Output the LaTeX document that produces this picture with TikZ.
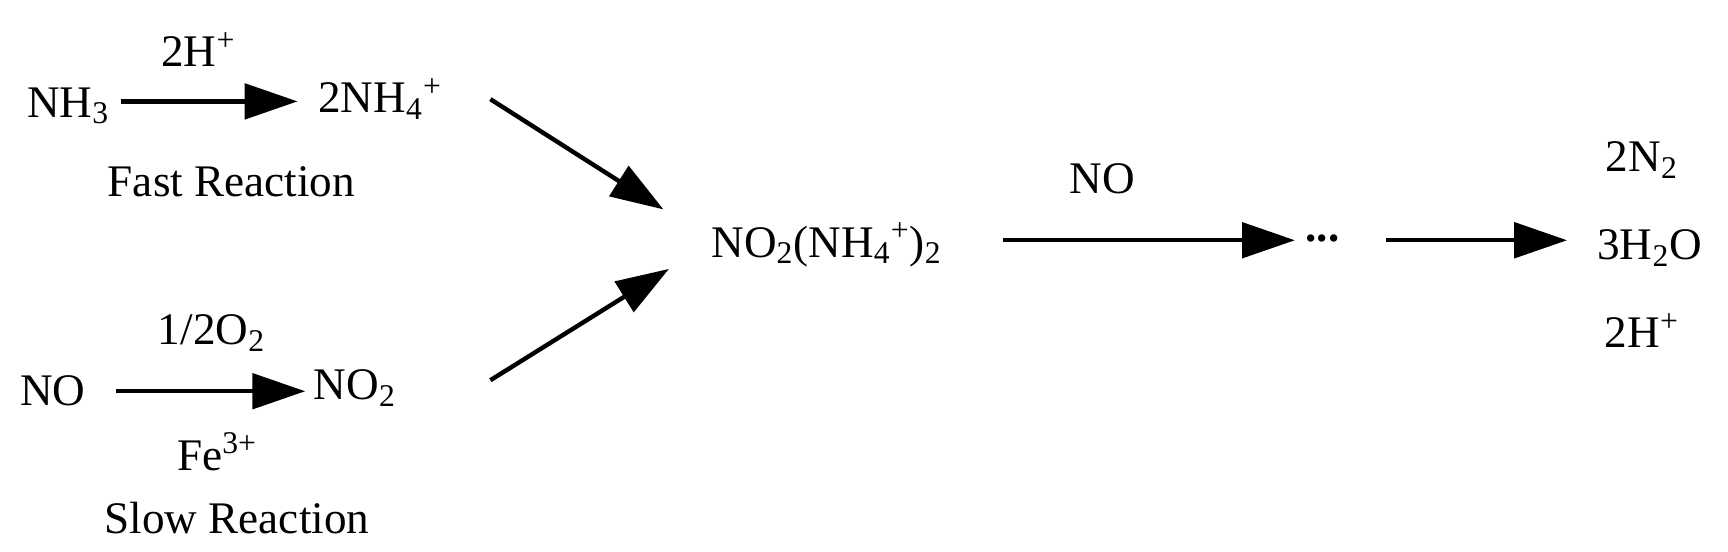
\documentclass[tikz,border=0pt]{standalone}
\usepackage{fontspec}
\setmainfont{Liberation Serif}
\usetikzlibrary{arrows.meta}
\newcommand{\sbs}[1]{\textsubscript{#1}}
\newcommand{\sps}[1]{\textsuperscript{#1}}
\begin{document}
\begin{tikzpicture}[x=0.5pt,y=-0.5pt,
  every node/.style={font=\fontsize{20.5}{22}\selectfont, inner sep=0pt},
  rx/.style={line width=2pt,-{Triangle[length=24pt,width=16pt]}}]
\useasboundingbox (0,0) rectangle (1568,500);
\node (nh3) at (62,96) {NH\sbs{3}};
\node (h2) at (180,45) {2H\sps{+}};
\node (nh4) at (345,90) {2NH\sbs{4}\sps{+}};
\node (fast) at (210,165) {Fast Reaction};
\node (no) at (48,355) {NO};
\node (o2) at (192,302) {1/2O\sbs{2}};
\node (no2) at (322,352) {NO\sbs{2}};
\node (fe) at (197,410) {Fe\sps{3+}};
\node (slow) at (215,470) {Slow Reaction};
\node (mid) at (750,222) {NO\sbs{2}(NH\sbs{4}\sps{+})\sbs{2}};
\node (nolab) at (1000,162) {NO};
\node (dots) at (1200,216) {\textbf{...}};
\node (n2) at (1490,145) {2N\sbs{2}};
\node (h2o) at (1497,225) {3H\sbs{2}O};
\node (hp) at (1490,300) {2H\sps{+}};
\coordinate (a1s) at (110,92); \coordinate (a1e) at (270,92);
\coordinate (a2s) at (105,355); \coordinate (a2e) at (277,355);
\coordinate (a3s) at (445,90); \coordinate (a3e) at (602,190);
\coordinate (a4s) at (445,345); \coordinate (a4e) at (607,244);
\coordinate (a5s) at (910,218); \coordinate (a5e) at (1175,218);
\coordinate (a6s) at (1258,218); \coordinate (a6e) at (1422,218);
\draw[rx] (a1s) -- (a1e);
\draw[rx] (a2s) -- (a2e);
\draw[rx] (a3s) -- (a3e);
\draw[rx] (a4s) -- (a4e);
\draw[rx] (a5s) -- (a5e);
\draw[rx] (a6s) -- (a6e);
\end{tikzpicture}
\end{document}
